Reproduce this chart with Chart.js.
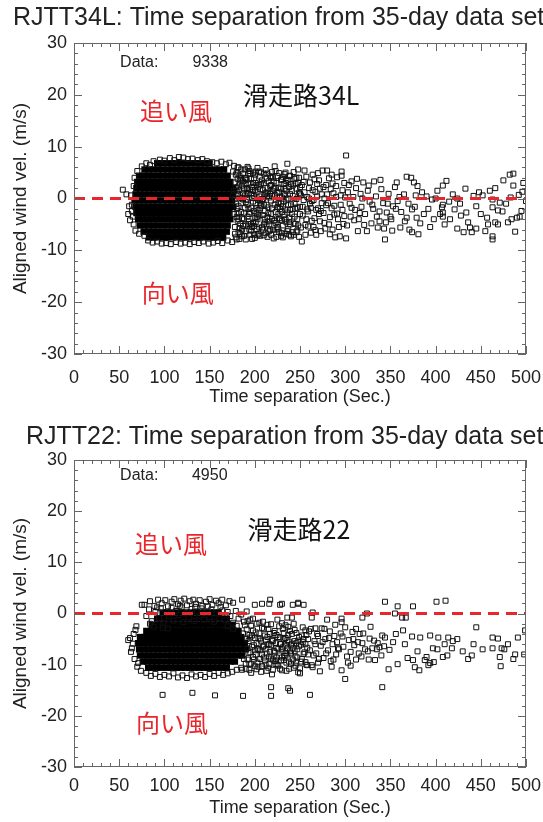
<!DOCTYPE html>
<html lang="ja">
<head>
<meta charset="UTF-8">
<title>RJTT time separation vs aligned wind</title>
<script src="https://cdn.jsdelivr.net/npm/chart.js@4.4.1/dist/chart.umd.min.js"></script>
<style>
  body { margin: 0; background: #fff; width: 543px; height: 822px; overflow: hidden; }
  .panel { position: absolute; left: 0; width: 543px; height: 411px; }
  #top { top: 0; }
  #bottom { top: 411px; }
</style>
</head>
<body>
<div class="panel" id="top"><canvas id="chart34L"></canvas></div>
<div class="panel" id="bottom"><canvas id="chart22"></canvas></div>
<script>
const FONT = '"Liberation Sans", Arial, Helvetica, sans-serif';
const JP = '"Noto Sans CJK JP", sans-serif';
const RED = '#e8262b';

// axes
const xTicks = [0, 50, 100, 150, 200, 250, 300, 350, 400, 450, 500];
const yTicks = [-30, -20, -10, 0, 10, 20, 30];
const zeroLine = [[0, 0], [500, 0]];

const count34L = 9338;
const count22 = 4950;

// ---- RJTT34L ----
// saturated core, row by row (y level, x positions)
const core34LY = [6.8, 5.6, 4.4, 3.2, 2.0, 0.8, -0.4, -1.6, -2.8, -4.0, -5.2, -6.4, -7.5];
const core34LX = [
  [92, 97, 103, 108, 113, 118, 124, 129, 134, 139, 145, 150],
  [78, 83, 88, 93, 98, 104, 109, 114, 119, 124, 129, 135, 140, 145, 150, 156, 161, 166],
  [72, 77, 82, 87, 93, 98, 103, 108, 113, 118, 124, 129, 134, 139, 144, 150, 155, 160, 165, 170],
  [70, 75, 80, 86, 91, 96, 101, 106, 111, 117, 122, 127, 132, 137, 142, 148, 153, 158, 163, 168, 173],
  [69, 74, 79, 84, 89, 95, 100, 105, 110, 115, 120, 126, 131, 136, 141, 146, 151, 157, 162, 167, 172, 176],
  [68, 73, 78, 83, 88, 93, 99, 104, 109, 114, 119, 124, 130, 135, 140, 145, 150, 155, 161, 166, 171, 176],
  [67, 72, 77, 82, 87, 92, 98, 103, 108, 113, 118, 123, 128, 134, 139, 144, 149, 154, 159, 165, 170, 175],
  [68, 73, 78, 83, 88, 93, 98, 104, 109, 114, 119, 124, 129, 134, 140, 145, 150, 155, 160, 165, 171, 176],
  [69, 74, 79, 84, 89, 94, 100, 105, 110, 115, 120, 125, 130, 136, 141, 146, 151, 156, 161, 166, 172],
  [71, 76, 81, 86, 91, 96, 101, 107, 112, 117, 122, 127, 132, 137, 143, 148, 153, 158, 163, 168, 173],
  [73, 78, 83, 88, 93, 99, 104, 109, 114, 119, 124, 129, 134, 140, 145, 150, 155, 160, 165, 170],
  [77, 82, 87, 92, 97, 102, 108, 113, 118, 123, 128, 133, 138, 144, 149, 154, 159, 164, 169],
  [83, 88, 93, 98, 103, 109, 114, 119, 124, 129, 134, 139, 144, 150, 155, 160, 165]
];
const edge34L = [
  [54, 1.7], [58, 0.8], [60, -3.0], [61, -1.5], [62, -4.2], [63, 0.6], [64, -1.2], [64, -2.4], [65, -3.5],
  [66, 2.4], [66, -5.0], [67, 4.0], [68, -6.2], [70, 5.3], [72, -6.8],
  [75, 6.2], [80, 6.8], [84, 6.5], [88, 7.2], [95, 7.5], [100, 7.3], [106, 7.8], [111, 7.4], [116, 8.0],
  [121, 7.9], [126, 7.6], [131, 7.7], [137, 7.4], [142, 7.6], [147, 7.2], [153, 7.0], [158, 6.8], [163, 7.1],
  [168, 6.6], [172, 6.9], [177, 6.3], [181, 6.0],
  [78, -7.2], [82, -8.1], [87, -8.5], [92, -8.3], [97, -8.7], [102, -8.6], [107, -8.8], [113, -8.4],
  [118, -8.7], [123, -8.5], [128, -8.8], [133, -8.4], [138, -8.6], [143, -8.3], [149, -8.7], [154, -8.5],
  [159, -8.2], [164, -8.6], [170, -8.1], [175, -8.4], [180, -7.9]
];
const mid34L = [
  [176, 5.2], [178, 3.1], [179, -1.0], [180, 1.4], [181, -4.3], [182, -6.5], [183, 4.4], [184, 0.2], [185, -2.6],
  [186, 2.5], [187, -5.3], [188, -7.2], [189, 5.6], [190, -0.7], [191, 3.6], [192, -3.5], [193, 1.0], [194, -6.0],
  [195, 4.8], [196, -1.8], [197, 2.2], [198, -4.7], [199, 0.5], [200, -7.6], [201, 3.0], [202, -2.9], [203, 5.9],
  [204, -0.3], [205, -5.6], [206, 1.8], [177, -3.0], [179, 2.1], [182, 6.0], [183, -7.8], [185, 4.0], [187, -0.2],
  [188, 1.9], [190, -5.0], [192, 6.1], [193, -2.0], [195, -7.0], [197, 0.1], [199, 3.9], [200, -3.8], [202, 1.2],
  [204, -6.8], [205, 2.7], [207, -1.4], [176, 0.5], [178, -5.5], [181, 3.8], [184, -6.9], [186, -3.8], [189, -1.8],
  [191, 0.9], [194, 2.9], [196, -4.9], [198, 5.0], [201, -0.9], [203, -4.0], [206, 4.2], [180, -2.0], [183, 1.6],
  [187, 3.3], [190, 2.8], [193, 4.8], [196, -6.2], [199, -2.4], [202, -5.9], [205, 0.4],
  [208, 3.5], [209, -3.2], [210, -7.1], [211, 0.8], [212, 5.5], [213, -5.0], [214, 2.0], [215, -1.7], [216, -6.3],
  [217, 4.3], [218, -0.4], [219, -3.9], [220, 1.4], [221, -7.7], [222, 6.2], [223, -2.6], [224, 3.0], [225, -5.5],
  [226, -0.9], [227, 4.9], [228, -4.1], [229, 1.9], [230, -6.7], [231, -1.5], [232, 2.8], [233, -3.2], [234, 5.0],
  [235, -0.2], [236, 6.7], [237, -5.9], [238, 2.2], [239, -2.2], [240, -7.3], [209, 1.6], [211, -4.6], [213, 3.9],
  [215, -2.8], [217, -6.0], [219, 0.5], [221, 3.3], [223, -4.7], [225, 1.1], [227, -6.5], [229, -1.0], [231, 4.2],
  [233, 0.6], [235, -4.6], [237, 3.6], [239, 0.9], [210, -1.2], [214, -3.6], [218, 2.6], [222, -1.2], [226, -3.0],
  [230, 0.2], [234, -2.1], [238, -3.7],
  [242, 2.5], [243, -4.8], [244, -0.8], [246, 4.0], [247, -6.2], [248, 5.6], [249, 1.1], [250, -3.0], [252, -8.3],
  [253, -1.6], [254, 3.2], [255, 5.4], [256, -5.1], [258, 0.3], [259, -2.5], [260, 2.0], [262, -6.6], [263, -0.5],
  [264, 4.6], [266, -3.8], [267, 1.3], [268, -7.0], [270, -1.9], [271, 3.5], [272, -4.4], [274, 0.8], [275, 5.4],
  [276, -2.8], [278, -5.8], [279, 2.6], [280, 5.4], [281, -0.9], [283, -3.6], [284, 1.8], [285, 4.6], [286, -6.0],
  [288, -1.4], [289, -7.5], [290, 2.4], [292, -4.0], [294, -7.3], [295, 0.6], [296, 5.2], [296, 4.4], [297, -2.2],
  [299, 3.0], [301, -7.7], [301, 8.3], [245, -2.0], [251, 0.6], [257, -4.0], [261, -1.0], [265, -5.5], [269, 2.8],
  [273, -2.4], [277, 0.0], [282, -5.0], [287, 1.0], [291, -2.9], [298, -4.9]
];
const extra34L = [
  [177, 1.5], [178, -6.8], [179, 4.6], [180, -3.6], [181, 0.9], [182, -1.5], [183, 2.9], [184, -4.9], [185, 5.6],
  [186, -7.3], [187, 1.0], [188, -2.9], [189, 3.9], [190, -6.3], [191, -0.2], [192, 1.8], [193, -4.4], [194, 5.3],
  [195, -2.7], [196, 0.8], [197, -7.8], [198, 3.0], [199, -5.3], [200, 1.6], [201, 5.2], [202, -1.9], [203, -7.1],
  [204, 2.3], [205, -3.3], [206, -0.8], [207, 5.0], [208, -5.6], [209, -0.1], [210, 3.0], [211, -2.4], [212, -6.7],
  [213, 1.2], [214, 4.8], [215, -4.4], [216, 0.2], [217, 2.4], [218, -7.0], [219, -1.9], [220, 4.1], [221, -4.3],
  [222, 0.7], [223, 5.3], [224, -6.0], [225, -1.7], [226, 2.1], [227, -3.8], [228, 0.4], [229, -7.2], [230, 3.7],
  [231, -5.2], [232, -0.6], [233, 1.9], [234, -6.8], [235, 3.4], [236, -2.7], [237, 0.0], [238, -4.5], [239, 4.4],
  [240, -1.1], [241, 1.5], [242, -6.5], [243, 5.1], [244, -3.5], [245, 2.9], [246, -0.1], [247, -4.0], [248, 3.0],
  [249, -7.4], [250, 0.9], [251, -5.6], [252, 2.6], [253, -3.3], [254, -0.3], [255, 1.2], [256, -7.0], [257, 4.2],
  [258, -2.1], [259, -5.4], [260, 0.0], [261, 3.1], [262, -1.8], [263, -4.3], [264, 1.6], [265, -0.3], [266, 3.7],
  [267, -6.1], [268, -2.2], [269, 0.4], [270, 4.9], [271, -3.0], [272, 1.9], [273, -6.3], [274, -0.9], [276, 2.2],
  [277, -4.7], [279, -1.3], [280, 0.8], [282, 3.9], [283, -6.9], [285, -1.9], [286, 2.9], [288, -3.1], [290, 0.3],
  [291, 4.1], [293, -5.5], [295, -1.2], [297, 1.6], [299, -3.4], [300, 0.2], [302, -5.2], [304, 2.6], [307, -1.8],
  [310, -4.2], [313, 3.8], [316, -2.8], [319, 0.0], [321, -5.1], [326, 2.5], [330, -1.2], [335, -3.5], [339, 3.6],
  [343, -5.8], [347, -1.0], [351, -4.0], [356, -2.0], [360, 0.3], [366, -4.4], [371, -6.0], [377, -1.6], [380, 2.4],
  [387, -3.0], [394, -5.5], [400, 0.0], [405, -3.0], [416, -4.0], [427, -1.0], [431, -6.5], [442, 0.5], [450, -3.0],
  [458, -5.0], [466, 2.0], [474, -2.5], [484, -4.0], [492, 0.7],
  [178, 0.0], [179, -7.5], [180, 5.0], [181, -2.8], [182, 2.3], [183, -5.7], [184, 3.6], [185, -0.9], [186, -6.0],
  [187, 4.8], [188, -4.0], [189, 0.6], [190, -7.9], [191, 2.0], [192, -1.2], [193, 5.8], [194, -3.0], [195, 1.7],
  [196, 3.8], [197, -5.5], [198, -0.6], [199, -7.0], [200, 4.6], [201, -4.5], [202, 2.6], [203, 0.0], [204, -2.2],
  [205, 5.2], [206, -7.2], [207, 2.8], [208, -0.2], [209, -6.0], [210, 4.8], [211, -3.9], [212, 1.0], [213, -1.2],
  [214, -7.4], [215, 3.3], [216, -5.0], [217, 0.9], [218, -3.0], [219, 5.1], [220, -6.0], [221, 1.9], [222, -4.2],
  [223, -0.2], [224, -7.4], [225, 4.3], [226, -5.8], [227, 1.2], [228, -2.0], [229, 3.6], [230, -4.3], [231, -7.5],
  [232, 0.9], [233, 4.7], [234, -4.0], [235, 1.5], [236, -6.3], [237, -1.3], [238, 4.3], [239, -5.0], [240, 2.8],
  [241, -3.0], [242, 0.5], [243, -7.0], [244, 3.8], [245, -4.9], [246, 1.9], [247, -1.8], [248, -5.2], [249, 4.0],
  [250, -1.6], [182, -4.0], [186, 0.0], [190, 4.0], [194, -4.9], [198, 1.6], [202, -3.6], [206, -1.9], [210, -5.0],
  [214, 0.5], [218, 4.0], [222, 2.1], [226, -1.6], [230, -2.6], [234, 3.0], [238, -7.0], [242, -2.0], [246, -6.5],
  [250, 2.2]
];
const tail34L = [
  [303, 1.2], [305, -1.0], [306, -3.5], [307, 3.3], [309, 0.3], [311, -2.2], [312, 2.0], [314, -6.3], [315, -4.0],
  [317, 0.9], [318, -1.6], [320, 3.1], [322, -3.0], [324, -6.3], [325, 1.5], [327, -0.6], [329, -4.8], [331, -2.0],
  [332, 3.3], [334, 0.4], [336, -5.6], [338, -2.5], [338, -4.4], [340, 1.8], [342, -0.9], [344, -7.9], [345, -4.6],
  [346, -2.7], [348, 0.9], [350, -3.5], [352, -6.2], [353, -1.5], [355, 2.2], [357, 3.1], [358, -0.5], [361, -5.6],
  [362, -2.6], [365, 0.8], [368, 4.2], [368, -3.7], [370, -1.0], [373, 4.0], [374, -2.1], [374, -6.5], [376, 3.1],
  [378, 0.6], [379, -3.7], [381, -6.9], [383, -4.8], [385, 1.2], [390, 0.4], [392, -2.0], [396, -0.2], [398, -4.0],
  [402, 1.5], [407, -1.7], [408, 2.5], [408, -1.2], [408, -2.7], [408, -3.5], [410, -5.0], [412, 3.4], [415, -0.6],
  [419, 0.8], [421, -2.1], [424, 0.0], [424, -5.8], [428, -3.3], [433, 1.9], [434, -2.7], [436, -4.6], [438, -5.6],
  [440, -6.5], [445, -1.5], [445, -5.8], [448, 1.2], [452, 0.6], [455, -6.3], [457, -3.7], [460, 1.5], [463, -0.2],
  [463, -1.7], [463, -7.3], [463, -7.9], [466, -4.6], [469, -2.3], [469, -5.0], [471, -0.8], [475, 3.5], [478, -1.0],
  [480, -4.6], [482, 4.6], [483, 0.2], [486, 4.8], [486, 2.5], [488, -6.4], [490, -3.7], [493, -3.5], [495, -2.4],
  [496, 1.3], [497, 3.0], [500, -0.5]
];

// ---- RJTT22 ----
const core22Y = [0.2, -1.0, -2.2, -3.4, -4.6, -5.8, -7.0, -8.2, -9.4, -10.6];
const core22X = [
  [98, 103, 108, 114, 119, 124, 129, 134, 139, 144, 150, 155, 160],
  [92, 97, 102, 107, 113, 118, 123, 128, 133, 138, 143, 149, 154, 159, 164, 169],
  [86, 92, 97, 102, 107, 112, 118, 123, 128, 133, 138, 143, 148, 154, 159, 164, 170, 175],
  [80, 85, 90, 95, 100, 106, 111, 116, 121, 126, 131, 137, 142, 147, 152, 157, 162, 167, 172, 177, 182],
  [73, 78, 83, 88, 93, 98, 104, 109, 114, 119, 124, 129, 134, 140, 145, 150, 155, 160, 165, 170, 175, 180, 185],
  [71, 76, 81, 86, 91, 96, 102, 107, 112, 117, 122, 127, 132, 138, 143, 148, 153, 158, 163, 168, 173, 178, 184, 189],
  [72, 77, 82, 87, 92, 97, 103, 108, 113, 118, 123, 128, 133, 139, 144, 149, 154, 159, 164, 169, 174, 179, 185, 190],
  [73, 78, 83, 88, 93, 98, 104, 109, 114, 119, 124, 129, 134, 139, 145, 150, 155, 160, 165, 170, 175, 181, 186],
  [76, 81, 86, 91, 96, 102, 107, 112, 117, 122, 127, 132, 137, 143, 148, 153, 158, 163, 168, 173, 178],
  [82, 87, 92, 97, 103, 108, 113, 118, 123, 128, 133, 138, 144, 149, 154, 159, 164, 169]
];
const band22 = [
  [75, 1.7], [78, 1.7], [84, 2.4], [89, 1.5], [92, 1.2], [93, 2.7], [97, 2.0], [101, 2.6], [104, 1.4], [108, 2.3],
  [111, 2.8], [115, 1.8], [117, 1.5], [118, 2.5], [122, 2.9], [125, 1.6], [128, 2.4], [132, 2.7], [134, 1.3],
  [135, 1.9], [139, 2.6], [142, 1.5], [146, 2.3], [148, 1.4], [150, 2.8], [153, 1.7], [157, 2.5], [160, 2.0],
  [162, 1.3], [164, 2.7], [168, 1.6], [172, 2.4], [176, 2.1], [186, 2.7], [200, 1.7], [208, 1.9], [216, 1.9],
  [217, 2.7], [228, 1.7], [230, 1.9], [242, 1.7], [248, 1.9], [248, 2.1], [254, 1.7],
  [80, -0.5], [83, 0.8], [86, -1.5], [90, 0.3], [94, -0.9], [96, 1.0], [99, -1.8], [102, 0.2], [105, -0.6],
  [108, 1.1], [110, -1.4], [113, 0.5], [116, -0.3], [119, 1.2], [121, -1.7], [124, 0.1], [127, -0.8], [130, 0.9],
  [133, -1.5], [136, 0.4], [139, -0.4], [141, 1.0], [144, -1.2], [147, 0.2], [150, -0.7], [152, 0.8], [155, -1.6],
  [158, 0.0], [161, -0.9], [164, 0.6], [167, -1.3], [170, 0.3], [173, -0.5], [176, -1.8], [179, 0.5], [182, -1.0],
  [185, -0.2], [188, -1.6], [191, 0.4], [195, -1.2], [98, -2.8], [104, -2.9], [88, -2.6], [84, -2.0], [170, -2.5],
  [176, -3.0], [180, -2.4]
];
const edge22 = [
  [60, -5.2], [62, -4.8], [63, -7.5], [64, -6.8], [65, -5.9], [66, -4.0], [67, -8.9], [68, -3.2], [69, -2.5],
  [70, -10.4], [71, -9.7], [74, -11.2],
  [80, -11.6], [85, -12.2], [90, -11.8], [95, -12.4], [100, -12.0], [105, -12.3], [110, -11.7], [115, -12.5],
  [120, -12.1], [125, -12.6], [130, -11.9], [135, -12.3], [140, -12.0], [145, -12.4], [150, -11.8], [155, -12.2],
  [160, -11.6], [165, -12.0], [170, -11.7], [175, -11.4], [180, -11.0], [185, -10.6], [190, -9.8],
  [98, -15.9], [131, -15.5], [156, -16.0], [187, -16.1], [218, -14.4], [218, -16.1], [237, -14.6], [239, -15.1],
  [261, -15.9], [341, -14.4]
];
const mid22 = [
  [191, -3.1], [192, -9.0], [193, -5.4], [194, -11.0], [195, -7.6], [196, -2.4], [197, -4.3], [198, -8.5],
  [199, -6.2], [200, -10.3], [201, -3.7], [202, -5.8], [203, -9.6], [204, -7.0], [205, -1.8], [206, -4.9],
  [207, -11.4], [208, -8.0], [209, -6.5], [210, -3.0], [211, -9.2], [212, -5.1], [213, -7.8], [214, -2.2],
  [215, -10.6], [216, -6.0], [217, -4.0], [218, -8.8], [219, -11.9], [220, -5.4], [221, -7.3], [222, -3.4],
  [223, -9.9], [224, -6.7], [225, -1.2], [226, -4.6], [227, -8.2], [228, -10.8], [229, -5.9], [230, -7.0],
  [231, -3.0], [232, -9.1], [233, -6.3], [234, -4.8], [235, -11.2], [236, -8.0], [237, -2.6], [238, -5.5],
  [239, -7.4], [240, -9.8], [241, -4.0], [242, -6.8], [243, -10.6], [244, -3.2], [245, -8.4], [246, -5.8],
  [247, -7.0], [248, -11.5], [249, -4.6], [250, -10.7], [250, -11.7], [251, -6.1], [252, -8.9], [253, -2.7],
  [254, -5.0], [255, -7.6], [256, -9.5], [257, -4.2], [258, -6.7], [259, -8.0], [260, -3.5], [192, -6.8],
  [194, -4.2], [196, -9.8], [198, -3.3], [200, -7.2], [202, -10.9], [204, -4.9], [206, -8.9], [208, -2.8],
  [210, -6.3], [212, -10.0], [214, -4.6], [216, -8.4], [218, -6.2], [220, -9.0], [222, -7.6], [224, -4.2],
  [226, -10.2], [228, -6.0], [230, -8.6], [232, -3.8], [234, -7.7], [236, -5.2], [238, -9.4], [240, -6.2],
  [244, -7.4], [246, -9.6], [248, -5.3], [252, -4.3], [256, -6.0], [258, -10.1], [236, -0.8], [241, -0.8],
  [230, -1.9]
];
const extra22 = [
  [186, -11.0], [187, -3.9], [188, -8.9], [189, -2.3], [190, -10.8], [191, -5.0], [192, -1.5], [193, -7.7],
  [194, -9.9], [195, -4.7], [196, -11.6], [197, -6.5], [198, -1.0], [199, -9.0], [200, -4.8], [201, -8.0],
  [202, -2.0], [203, -6.9], [204, -10.4], [205, -3.9], [206, -7.2], [207, -5.3], [208, -10.3], [209, -1.6],
  [210, -8.6], [211, -4.3], [212, -7.0], [213, -11.2], [214, -6.1], [215, -3.0], [216, -9.9], [217, -7.5],
  [218, -2.1], [219, -5.2], [220, -11.0], [221, -3.8], [222, -9.3], [223, -5.8], [224, -8.6], [225, -10.0],
  [226, -6.9], [227, -2.5], [228, -4.7], [229, -9.2], [230, -11.1], [231, -6.6], [232, -5.0], [233, -8.3],
  [234, -2.3], [235, -9.6], [236, -6.8], [237, -4.2], [238, -10.8], [239, -3.4], [240, -7.8], [241, -5.9],
  [242, -9.0], [243, -2.0], [244, -5.4], [245, -10.2], [246, -3.8], [247, -8.6], [249, -6.4], [251, -9.4],
  [253, -5.6], [254, -7.9], [256, -3.3], [257, -10.0], [259, -5.0], [261, -7.2], [262, -3.0], [265, -8.2],
  [267, -6.0], [269, -4.0], [271, -8.9], [275, -5.6], [279, -7.8], [282, -4.8], [287, -9.0], [292, -6.8],
  [297, -4.5], [303, -9.6], [309, -5.0], [315, -7.8], [320, -3.9], [326, -9.0], [332, -5.3], [340, -8.2],
  [349, -7.1], [356, -4.0], [366, -6.0], [380, -7.4], [398, -9.5], [424, -5.0], [452, -7.0], [480, -6.0]
];
const tail22 = [
  [263, -0.8], [264, 0.2], [263, -10.1], [264, -10.5], [266, -5.4], [267, -2.9], [268, -7.8], [270, -4.4],
  [270, -9.6], [272, -11.3], [273, -6.3], [274, -2.9], [276, -8.7], [277, -3.0], [278, -5.0], [280, -1.2],
  [281, -7.2], [283, -3.5], [284, -9.3], [285, -10.4], [286, -6.0], [288, -4.4], [289, -2.2], [290, -8.0],
  [291, -5.6], [293, -7.0], [295, -3.9], [296, -1.0], [296, -1.7], [296, -11.1], [298, -6.5], [300, -2.7],
  [300, -12.8], [302, -8.4], [304, -5.2], [306, -7.5], [306, -10.2], [308, -3.6], [310, -6.2], [312, -9.0],
  [312, -3.0], [314, -5.6], [316, -4.0], [318, -8.4], [319, -5.8], [319, -0.8], [322, -7.0], [324, 0.0],
  [325, -7.4], [327, -4.9], [328, -2.6], [330, -6.8], [333, -9.1], [335, -7.0], [336, -5.8], [338, -6.6],
  [341, -4.3], [343, -6.4], [344, -4.7], [344, 2.3], [348, -10.9], [353, -5.6], [355, 0.0], [358, -9.9],
  [358, 1.4], [363, -0.8], [364, -3.3], [367, -0.8], [369, -8.7], [374, -4.5], [375, -9.1], [375, 1.4],
  [377, -10.5], [382, -11.1], [383, -4.7], [388, -9.1], [390, -8.5], [392, -10.1], [394, -9.7], [394, -4.3],
  [397, -6.8], [401, 2.3], [402, -7.0], [403, -4.7], [408, -8.5], [410, -6.0], [411, 2.5], [413, -8.2],
  [414, -4.7], [418, -6.8], [419, -5.4], [430, -7.4], [436, -8.9], [440, -8.2], [442, -6.0], [445, -2.7],
  [463, -4.7], [463, -6.8], [469, -4.9], [471, -8.5], [472, -10.3], [473, -6.8], [476, -7.0], [486, -8.9],
  [488, -8.0], [491, -4.7], [498, -8.0], [499, -3.3]
];

function rowsToPoints(ys, xs) {
  const out = [];
  ys.forEach((y, i) => xs[i].forEach(x => out.push({ x: x, y: y })));
  return out;
}
const toPts = arr => arr.map(([x, y]) => ({ x: x, y: y }));

// box frame with inward ticks on all four sides
const framePlugin = {
  id: 'frame',
  afterDatasetsDraw(chart) {
    const { ctx, chartArea: a, scales: { x, y } } = chart;
    ctx.save();
    ctx.strokeStyle = '#666';
    ctx.lineWidth = 1;
    ctx.strokeRect(Math.round(a.left) + 0.5, Math.round(a.top) + 0.5,
      Math.round(a.right - a.left) - 1, Math.round(a.bottom - a.top) - 1);
    ctx.beginPath();
    for (let v = x.min; v <= x.max; v += 10) {
      const len = v % 50 === 0 ? 8 : 4;
      const px = Math.round(x.getPixelForValue(v)) + 0.5;
      ctx.moveTo(px, a.bottom); ctx.lineTo(px, a.bottom - len);
      ctx.moveTo(px, a.top); ctx.lineTo(px, a.top + len);
    }
    for (let v = y.min; v <= y.max; v += 2) {
      const len = v % 10 === 0 ? 8 : 4;
      const py = Math.round(y.getPixelForValue(v)) + 0.5;
      ctx.moveTo(a.left, py); ctx.lineTo(a.left + len, py);
      ctx.moveTo(a.right, py); ctx.lineTo(a.right - len, py);
    }
    ctx.stroke();
    ctx.restore();
  }
};

function notesPlugin(title, titleX, titleY, notes) {
  return {
    id: 'notes',
    afterDraw(chart) {
      const { ctx, scales: { x, y } } = chart;
      ctx.save();
      ctx.textBaseline = 'middle';
      ctx.textAlign = 'left';
      ctx.fillStyle = '#222';
      ctx.font = '25px ' + FONT;
      ctx.fillText(title, titleX, titleY);
      notes.forEach(n => {
        ctx.font = n.font;
        ctx.fillStyle = n.color;
        ctx.fillText(n.text, x.getPixelForValue(n.x), y.getPixelForValue(n.y));
      });
      ctx.restore();
    }
  };
}

function makeChart(id, cfg) {
  return new Chart(document.getElementById(id), {
    type: 'scatter',
    data: {
      datasets: [
        { data: toPts(zeroLine), showLine: true, borderColor: RED, borderWidth: 3, borderDash: [11, 7],
          pointRadius: 0, order: 0 },
        { data: cfg.core, pointStyle: 'rect', pointRadius: 4.5, backgroundColor: '#000',
          borderWidth: 0, order: 2 },
        { data: cfg.pts, pointStyle: 'rect', pointRadius: 3.5, backgroundColor: 'rgba(0,0,0,0)',
          borderColor: '#111', borderWidth: 1, order: 1 }
      ]
    },
    options: {
      animation: false,
      responsive: true,
      maintainAspectRatio: false,
      events: [],
      layout: { padding: { top: cfg.top, right: 17, left: 0, bottom: 0 } },
      plugins: { legend: { display: false }, tooltip: { enabled: false } },
      scales: {
        x: {
          type: 'linear', min: 0, max: 500,
          afterBuildTicks: s => { s.ticks = xTicks.map(v => ({ value: v })); },
          afterFit: s => { s.height = cfg.xHeight; s.paddingLeft = 0; s.paddingRight = 0; },
          grid: { display: false, drawTicks: false },
          border: { display: false },
          ticks: { font: { family: FONT, size: 18 }, color: '#222', padding: cfg.xPad, maxRotation: 0, autoSkip: false },
          title: { display: true, text: 'Time separation (Sec.)', color: '#222',
                   font: { family: FONT, size: 18 }, padding: { top: 0, bottom: 3 } }
        },
        y: {
          type: 'linear', min: -30, max: 30,
          afterBuildTicks: s => { s.ticks = yTicks.map(v => ({ value: v })); },
          afterFit: s => { s.width = 74; },
          grid: { display: false, drawTicks: false },
          border: { display: false },
          ticks: { font: { family: FONT, size: 18 }, color: '#222', padding: 7 },
          title: { display: true, text: 'Aligned wind vel. (m/s)', color: '#222',
                   font: { family: FONT, size: 19 }, padding: { top: 9, bottom: 0 } }
        }
      }
    },
    plugins: [framePlugin, notesPlugin(cfg.title, cfg.titleX, cfg.titleY, cfg.notes)]
  });
}

makeChart('chart34L', {
  core: rowsToPoints(core34LY, core34LX),
  pts: toPts(edge34L.concat(mid34L, extra34L, tail34L)),
  top: 43, xHeight: 57, xPad: 13,
  title: 'RJTT34L: Time separation from 35-day data set', titleX: 13, titleY: 18,
  notes: [
    { text: 'Data:', x: 51, y: 26.2, font: '16px ' + FONT, color: '#222' },
    { text: String(count34L), x: 131, y: 26.2, font: '16px ' + FONT, color: '#222' },
    { text: '滑走路34L', x: 187, y: 19.8, font: '25px ' + JP, color: '#111' },
    { text: '追い風', x: 73, y: 16.9, font: '24px ' + JP, color: RED },
    { text: '向い風', x: 75, y: -18.2, font: '24px ' + JP, color: RED }
  ]
});

makeChart('chart22', {
  core: rowsToPoints(core22Y, core22X),
  pts: toPts(band22.concat(edge22, mid22, extra22, tail22)),
  top: 49, xHeight: 55, xPad: 8,
  title: 'RJTT22: Time separation from 35-day data set', titleX: 26, titleY: 26,
  notes: [
    { text: 'Data:', x: 51, y: 26.9, font: '16px ' + FONT, color: '#222' },
    { text: String(count22), x: 130.5, y: 26.9, font: '16px ' + FONT, color: '#222' },
    { text: '滑走路22', x: 192, y: 16.5, font: '25px ' + JP, color: '#111' },
    { text: '追い風', x: 67.5, y: 13.6, font: '24px ' + JP, color: RED },
    { text: '向い風', x: 68.5, y: -21.4, font: '24px ' + JP, color: RED }
  ]
});
</script>
</body>
</html>
